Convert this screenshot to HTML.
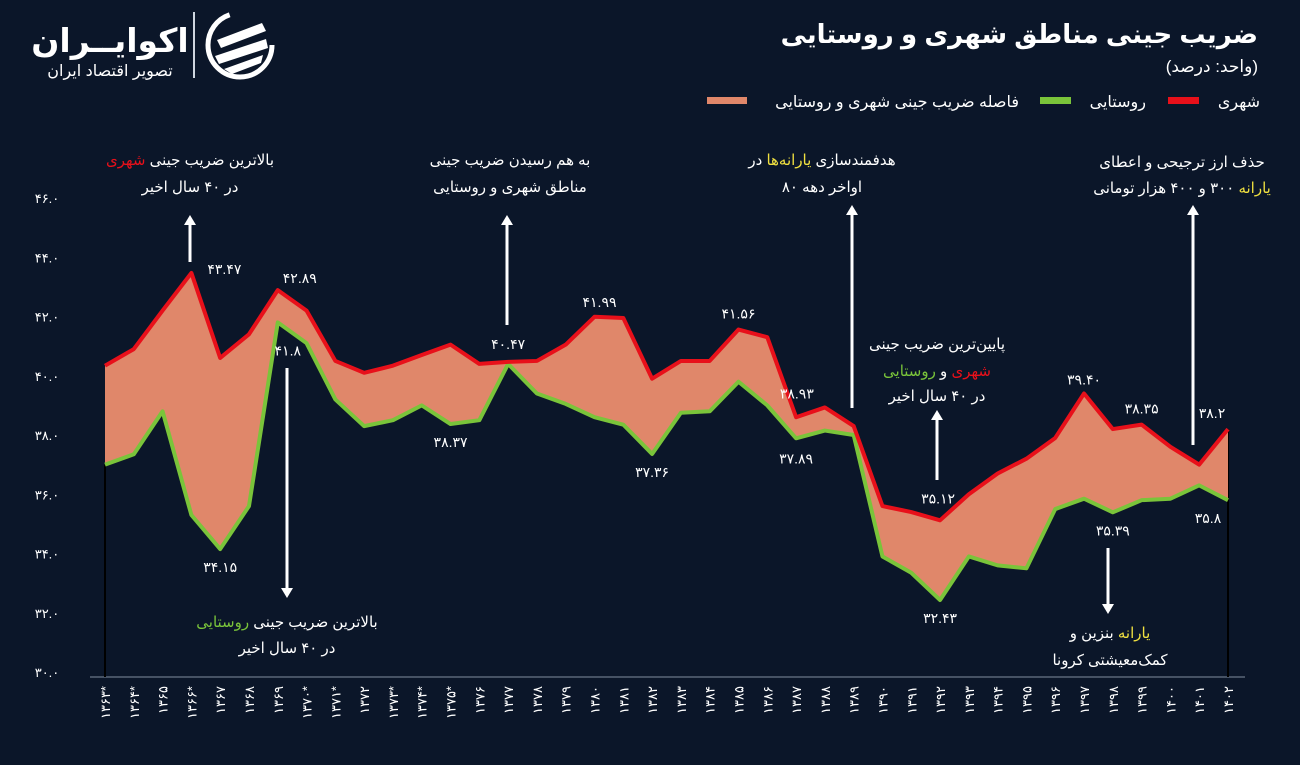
<!DOCTYPE html>
<html><head><meta charset="utf-8">
<style>
html,body{margin:0;padding:0;background:#0b1629;}
svg{display:block;font-family:"Liberation Sans","Noto Sans CJK SC","DejaVu Sans",sans-serif;}
</style></head>
<body>
<svg id="chart" width="1300" height="765" viewBox="0 0 1300 765">
<rect width="1300" height="765" fill="#0b1629"/>
<g>
 <circle cx="240" cy="45" r="32" fill="none" stroke="#fff" stroke-width="5" stroke-dasharray="140 62"/>
 <path d="M217 40 L262 23 L266 31 L221 48Z M215 56 L266 39 L268 48 L219 64Z M224 69 L263 55 L261 63 L232 74Z" fill="#fff"/>
 <rect x="193" y="12" width="2" height="66" fill="#cfd6e0"/>
 <text x="110" y="52" fill="#fff" font-size="33" font-weight="bold" text-anchor="middle" direction="rtl">اکوایــران</text>
 <text x="110" y="76" fill="#fff" font-size="16" text-anchor="middle" direction="rtl">تصویر اقتصاد ایران</text>
</g>
<text x="1258" y="43" fill="#fff" font-size="26" font-weight="bold" text-anchor="start" direction="rtl">ضریب جینی مناطق شهری و روستایی</text>
<text x="1258" y="72" fill="#fff" font-size="17" text-anchor="start" direction="rtl">(واحد: درصد)</text>
<g font-size="16" fill="#fff">
 <rect x="1168" y="97" width="31" height="7" fill="#e8101a"/>
 <text x="1260" y="107" text-anchor="start" direction="rtl">شهری</text>
 <rect x="1040" y="97" width="31" height="7" fill="#7ac43a"/>
 <text x="1146" y="107" text-anchor="start" direction="rtl">روستایی</text>
 <rect x="707" y="97" width="40" height="7" fill="#e0876a"/>
 <text x="1019" y="107" text-anchor="start" direction="rtl">فاصله ضریب جینی شهری و روستایی</text>
</g>
<g id="plot"></g>
</svg>
<script>
const years=["۱۳۶۳*","۱۳۶۴*","۱۳۶۵","۱۳۶۶*","۱۳۶۷","۱۳۶۸","۱۳۶۹","۱۳۷۰*","۱۳۷۱*","۱۳۷۲","۱۳۷۳*","۱۳۷۴*","۱۳۷۵*","۱۳۷۶","۱۳۷۷","۱۳۷۸","۱۳۷۹","۱۳۸۰","۱۳۸۱","۱۳۸۲","۱۳۸۳","۱۳۸۴","۱۳۸۵","۱۳۸۶","۱۳۸۷","۱۳۸۸","۱۳۸۹","۱۳۹۰","۱۳۹۱","۱۳۹۲","۱۳۹۳","۱۳۹۴","۱۳۹۵","۱۳۹۶","۱۳۹۷","۱۳۹۸","۱۳۹۹","۱۴۰۰","۱۴۰۱","۱۴۰۲"];
const urban=[40.34,40.9,42.2,43.47,40.6,41.4,42.89,42.2,40.5,40.1,40.34,40.7,41.05,40.4,40.47,40.5,41.05,41.99,41.95,39.9,40.5,40.5,41.56,41.3,38.6,38.93,38.3,35.6,35.4,35.12,36.0,36.7,37.2,37.9,39.40,38.2,38.35,37.6,37.0,38.2];
const rural=[37.0,37.35,38.8,35.3,34.15,35.6,41.8,41.1,39.2,38.3,38.5,39.0,38.37,38.5,40.4,39.4,39.05,38.6,38.35,37.36,38.75,38.8,39.8,39.0,37.89,38.15,38.0,33.9,33.35,32.43,33.9,33.6,33.5,35.5,35.85,35.39,35.8,35.85,36.3,35.8];
const yTicks=[30,32,34,36,38,40,42,44,46];
const yTickLabels=["۳۰.۰","۳۲.۰","۳۴.۰","۳۶.۰","۳۸.۰","۴۰.۰","۴۲.۰","۴۴.۰","۴۶.۰"];
const valueLabelIdx=[3,6,14,17,22,25,29,34,36,39];
const valueLabelUrban=["۴۳.۴۷","۴۲.۸۹","۴۰.۴۷","۴۱.۹۹","۴۱.۵۶","۳۸.۹۳","۳۵.۱۲","۳۹.۴۰","۳۸.۳۵","۳۸.۲"];
const ruralLabelIdx=[4,6,12,19,24,29,35,39];
const valueLabelRural=["۳۴.۱۵","۴۱.۸","۳۸.۳۷","۳۷.۳۶","۳۷.۸۹","۳۲.۴۳","۳۵.۳۹","۳۵.۸"];

const X=i=>105+i*(1228-105)/(years.length-1);
const Y=v=>672-(v-30)*(672-198)/16;
const NS="http://www.w3.org/2000/svg";
const plot=document.getElementById('plot');
function mk(tag,attrs,parent,txt){const e=document.createElementNS(NS,tag);for(const k in attrs)e.setAttribute(k,attrs[k]);if(txt!==undefined)e.textContent=txt;(parent||plot).appendChild(e);return e;}

yTicks.forEach((t,i)=>{const e=mk('text',{x:47,y:Y(t)+5,fill:'#fff','font-size':13,'text-anchor':'middle'},plot,yTickLabels[i]);

});
const base=mk('line',{x1:90,y1:677,x2:1245,y2:677,stroke:'#5a6678','stroke-width':1.5});


const vl=mk('line',{x1:X(0),y1:Y(rural[0]),x2:X(0),y2:677,stroke:'#000','stroke-width':2});


const vr=mk('line',{x1:X(39),y1:Y(urban[39]),x2:X(39),y2:677,stroke:'#000','stroke-width':2});


years.forEach((y,i)=>{const e=mk('text',{x:0,y:0,fill:'#fff','font-size':13,'text-anchor':'end',transform:`translate(${X(i)+5},686) rotate(-90)`},plot,y);

});

let d='M'+urban.map((v,i)=>X(i)+','+Y(v)).join(' L');
for(let i=rural.length-1;i>=0;i--)d+=' L'+X(i)+','+Y(rural[i]);
const area=mk('path',{d:d+'Z',fill:'#e0876a'});


const gl=mk('polyline',{points:rural.map((v,i)=>X(i)+','+Y(v)).join(' '),fill:'none',stroke:'#7ac43a','stroke-width':4,'stroke-linejoin':'round'});


const rl=mk('polyline',{points:urban.map((v,i)=>X(i)+','+Y(v)).join(' '),fill:'none',stroke:'#e8101a','stroke-width':4,'stroke-linejoin':'round'});



const uOff={3:[33,-4],6:[22,-12],14:[0,-18],17:[5,-15],22:[0,-16],25:[-28,-14],29:[-2,-22],34:[0,-14],36:[0,-16],39:[-16,-16]};
valueLabelIdx.forEach((i,k)=>{const o=uOff[i];const e=mk('text',{x:X(i)+o[0],y:Y(urban[i])+o[1]+5,fill:'#fff','font-size':14,'text-anchor':'middle'},plot,valueLabelUrban[k]);

});
const rOff={4:[0,18],6:[10,28],12:[0,18],19:[0,18],24:[0,20],29:[0,18],35:[0,18],39:[-20,18]};
ruralLabelIdx.forEach((i,k)=>{const o=rOff[i];const e=mk('text',{x:X(i)+o[0],y:Y(rural[i])+o[1]+5,fill:'#fff','font-size':14,'text-anchor':'middle'},plot,valueLabelRural[k]);

});

function arrow(x,y1,y2,name){const g=mk('g',{});


mk('line',{x1:x,y1:y1,x2:x,y2:y2+(y2<y1?8:-8),stroke:'#fff','stroke-width':3},g);
const s=y2<y1?-1:1;mk('path',{d:`M${x-6},${y2-s*10} L${x},${y2} L${x+6},${y2-s*10}Z`,fill:'#fff'},g);}
arrow(190,262,215,'arrow-max-urban');
arrow(507,325,215,'arrow-convergence');
arrow(852,408,205,'arrow-subsidy');
arrow(1193,445,205,'arrow-currency');
arrow(287,368,598,'arrow-max-rural');
arrow(937,480,410,'arrow-min');
arrow(1108,548,614,'arrow-covid');
function note(x,y,parts,name){const t=mk('text',{x:x,y:y,fill:'#fff','font-size':15,'text-anchor':'middle',direction:'rtl'});


parts.forEach(p=>{mk('tspan',p[1]?{fill:p[1]}:{},t,p[0]);});}
note(190,165,[["بالاترین ضریب جینی "],["شهری","#e8101a"]],'note-max-urban-1');
note(190,192,[["در ۴۰ سال اخیر"]],'note-max-urban-2');
note(510,165,[["به هم رسیدن ضریب جینی"]],'note-convergence-1');
note(510,192,[["مناطق شهری و روستایی"]],'note-convergence-2');
note(822,165,[["هدفمندسازی "],["یارانه‌ها","#f0e040"],[" در"]],'note-subsidy-1');
note(822,192,[["اواخر دهه ۸۰"]],'note-subsidy-2');
note(1182,167,[["حذف ارز ترجیحی و اعطای"]],'note-currency-1');
note(1182,193,[["یارانه","#f0e040"],[" ۳۰۰ و ۴۰۰ هزار تومانی"]],'note-currency-2');
note(287,627,[["بالاترین ضریب جینی "],["روستایی","#7ac43a"]],'note-max-rural-1');
note(287,653,[["در ۴۰ سال اخیر"]],'note-max-rural-2');
note(937,349,[["پایین‌ترین ضریب جینی"]],'note-min-1');
note(937,376,[["شهری","#e8101a"],[" و "],["روستایی","#7ac43a"]],'note-min-2');
note(937,401,[["در ۴۰ سال اخیر"]],'note-min-3');
note(1110,638,[["یارانه","#f0e040"],[" بنزین و"]],'note-covid-1');
note(1110,665,[["کمک‌معیشتی کرونا"]],'note-covid-2');
</script>
</body></html>
